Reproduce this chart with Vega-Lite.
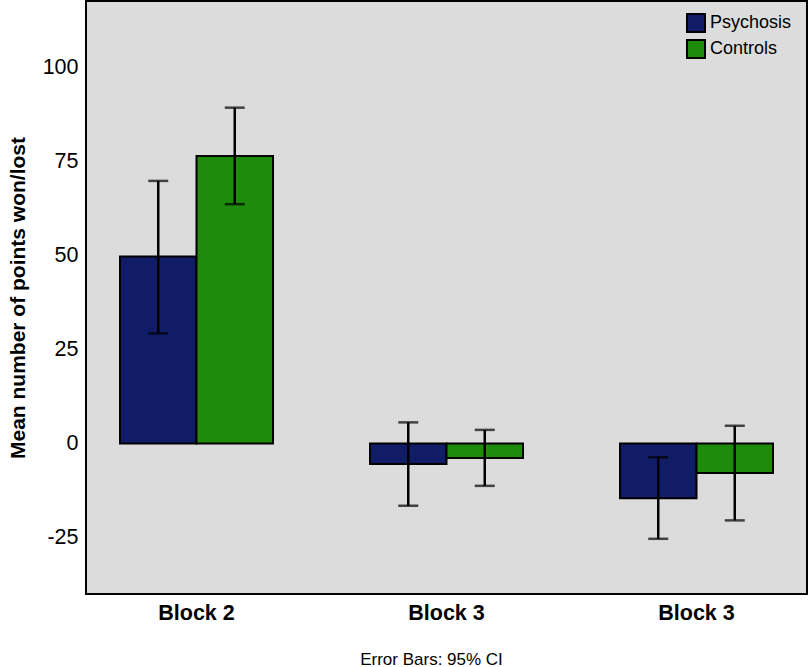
{
  "$schema": "https://vega.github.io/schema/vega-lite/v6.json",
  "autosize": "none",
  "padding": {"left": 86, "top": 1, "right": 3, "bottom": 73},
  "width": 721,
  "height": 593,
  "background": "white",
  "config": {
    "font": "Liberation Sans",
    "view": {"fill": "#dcdcdc", "stroke": "black", "strokeWidth": 2}
  },
  "title": {
    "text": "Error Bars: 95% CI",
    "orient": "bottom",
    "anchor": "middle",
    "frame": "group",
    "dx": -15,
    "offset": 28,
    "fontSize": 17,
    "fontWeight": "normal",
    "font": "Liberation Sans",
    "color": "black"
  },
  "data": {
    "values": [
      {"block": "Block 2", "group": "Psychosis", "mean": 49.8, "lo": 29.3, "hi": 69.9},
      {"block": "Block 2", "group": "Controls", "mean": 76.5, "lo": 63.7, "hi": 89.4},
      {"block": "Block 3a", "group": "Psychosis", "mean": -5.5, "lo": -16.6, "hi": 5.6},
      {"block": "Block 3a", "group": "Controls", "mean": -3.9, "lo": -11.3, "hi": 3.6},
      {"block": "Block 3b", "group": "Psychosis", "mean": -14.6, "lo": -25.4, "hi": -3.7},
      {"block": "Block 3b", "group": "Controls", "mean": -7.9, "lo": -20.5, "hi": 4.7}
    ]
  },
  "encoding": {
    "x": {
      "field": "block",
      "type": "nominal",
      "sort": ["Block 2", "Block 3a", "Block 3b"],
      "scale": {"paddingInner": 0.388, "paddingOuter": 0.136},
      "axis": {
        "title": null,
        "labelExpr": "datum.value == 'Block 3a' || datum.value == 'Block 3b' ? 'Block 3' : datum.value",
        "labelAngle": 0,
        "labelFontSize": 21.5,
        "labelFontWeight": "bold",
        "labelColor": "black",
        "labelPadding": 8,
        "ticks": false,
        "domain": false
      }
    },
    "xOffset": {
      "field": "group",
      "type": "nominal",
      "sort": ["Psychosis", "Controls"],
      "scale": {"paddingInner": 0, "paddingOuter": 0}
    }
  },
  "layer": [
    {
      "mark": {"type": "bar", "stroke": "black", "strokeWidth": 2},
      "encoding": {
        "y": {
          "field": "mean",
          "type": "quantitative",
          "scale": {"domain": [-40.1, 117.8], "nice": false, "zero": false},
          "axis": {
            "title": "Mean number of points won/lost",
            "titleFontSize": 21,
            "titleFontWeight": "bold",
            "titleColor": "black",
            "titlePadding": 14,
            "values": [-25, 0, 25, 50, 75, 100],
            "labelExpr": "toString(datum.value)",
            "labelFontSize": 21.5,
            "labelColor": "black",
            "labelPadding": 8,
            "ticks": false,
            "domain": false,
            "grid": false
          }
        },
        "color": {
          "field": "group",
          "type": "nominal",
          "sort": ["Psychosis", "Controls"],
          "scale": {"domain": ["Psychosis", "Controls"], "range": ["#101c66", "#1e8b0b"]},
          "legend": {
            "title": null,
            "orient": "none",
            "legendX": 600,
            "legendY": 12,
            "symbolType": "square",
            "symbolSize": 324,
            "symbolStrokeColor": "black",
            "symbolStrokeWidth": 2,
            "symbolOpacity": 1,
            "labelFontSize": 18,
            "labelColor": "black",
            "labelOffset": 4,
            "rowPadding": 0,
            "padding": 0
          }
        }
      }
    },
    {
      "mark": {"type": "rule", "color": "black", "strokeWidth": 2.5},
      "encoding": {
        "y": {"field": "lo", "type": "quantitative"},
        "y2": {"field": "hi"}
      }
    },
    {
      "mark": {"type": "tick", "color": "black", "thickness": 2.5, "size": 20, "orient": "horizontal"},
      "encoding": {
        "y": {"field": "lo", "type": "quantitative"}
      }
    },
    {
      "mark": {"type": "tick", "color": "black", "thickness": 2.5, "size": 20, "orient": "horizontal"},
      "encoding": {
        "y": {"field": "hi", "type": "quantitative"}
      }
    }
  ]
}
